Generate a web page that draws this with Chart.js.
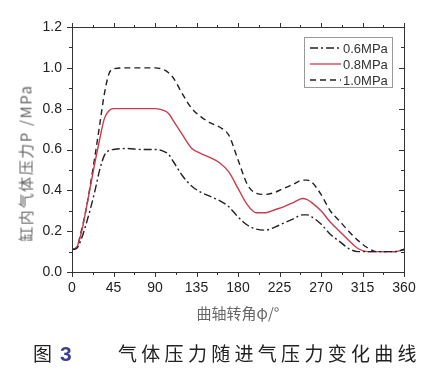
<!DOCTYPE html>
<html lang="zh">
<head>
    <meta charset="UTF-8">
    <title>气体压力随进气压力变化曲线</title>
    <script src="https://cdn.jsdelivr.net/npm/chart.js"></script>
    <style>
        body { margin: 0; background: #fff; }
        .page { position: relative; width: 426px; height: 372px; overflow: hidden; font-family: "Liberation Sans", Arial, sans-serif; }
        .chart-box { position: absolute; left: 0; top: 0; width: 426px; height: 372px; }
        /* rotated y title, a bit below the plot centre like the original */
        .ytitle {
            position: absolute; left: 25px; top: 163px;
            transform: translate(-50%, -50%) rotate(-90deg);
            white-space: nowrap; font-family: "Noto Sans CJK SC", sans-serif;
            font-size: 15px; letter-spacing: 1.6px; color: #666;
        }
        .caption { position: absolute; top: 339px; left: 33px; font-family: "Noto Sans CJK SC", sans-serif; font-size: 19px; color: #222; white-space: nowrap; }
        .caption .num { color: #3b3f8f; font-family: "Liberation Sans", Arial, sans-serif; font-weight: bold; font-size: 21px; margin-left: 8px; }
        .caption .txt { position: absolute; left: 85px; top: 0; letter-spacing: 4.3px; }
    </style>
</head>
<body>
<div class="page">
    <div class="chart-box"><canvas id="pressureChart"></canvas></div>
    <div class="ytitle">缸内气体压力P /MPa</div>
    <div class="caption">图<span class="num">3</span><span class="txt">气体压力随进气压力变化曲线</span></div>
</div>

<script>
    // crank angle (deg) and cylinder pressure (MPa)
    const angles = [0, 5, 10, 15, 20, 25, 30, 35, 40, 45, 60, 75, 90, 100, 105, 110, 120, 130, 140, 150, 160, 170, 180, 190, 200, 210, 220, 230, 240, 250, 255, 260, 270, 280, 290, 300, 310, 320, 330, 340, 350, 360];
    const p06 = [0.11, 0.115, 0.16, 0.23, 0.31, 0.40, 0.50, 0.57, 0.595, 0.60, 0.605, 0.60, 0.60, 0.59, 0.575, 0.54, 0.47, 0.42, 0.39, 0.37, 0.35, 0.32, 0.27, 0.23, 0.21, 0.205, 0.22, 0.24, 0.26, 0.28, 0.28, 0.27, 0.235, 0.185, 0.15, 0.115, 0.10, 0.10, 0.10, 0.10, 0.10, 0.11];
    const p08 = [0.11, 0.12, 0.19, 0.30, 0.42, 0.54, 0.65, 0.75, 0.79, 0.80, 0.80, 0.80, 0.80, 0.79, 0.775, 0.74, 0.67, 0.605, 0.58, 0.56, 0.535, 0.49, 0.41, 0.33, 0.29, 0.29, 0.305, 0.32, 0.34, 0.36, 0.355, 0.34, 0.30, 0.245, 0.20, 0.155, 0.115, 0.10, 0.10, 0.10, 0.10, 0.11];
    const p10 = [0.11, 0.12, 0.20, 0.30, 0.43, 0.57, 0.72, 0.87, 0.97, 0.995, 1.0, 1.0, 1.0, 0.99, 0.975, 0.95, 0.87, 0.80, 0.76, 0.73, 0.71, 0.67, 0.55, 0.43, 0.385, 0.38, 0.39, 0.41, 0.43, 0.45, 0.45, 0.44, 0.38, 0.30, 0.25, 0.20, 0.155, 0.12, 0.10, 0.10, 0.10, 0.11];
    const seriesLabels = ['0.6MPa', '0.8MPa', '1.0MPa'];

    const toPoints = vals => angles.map((a, i) => ({ x: a, y: vals[i] }));

    // box frame with major/minor ticks on all four sides
    const framePlugin = {
        id: 'frame',
        afterDatasetsDraw(chart) {
            const { ctx, chartArea: a, scales: { x, y } } = chart;
            ctx.save();
            ctx.strokeStyle = '#333';
            ctx.lineWidth = 1;
            ctx.strokeRect(Math.round(a.left) + 0.5, Math.round(a.top) + 0.5, Math.round(a.width), Math.round(a.height));
            ctx.beginPath();
            const xt = x.ticks.map(t => t.value);
            xt.forEach((v, i) => {
                const px = Math.round(x.getPixelForValue(v)) + 0.5;
                ctx.moveTo(px, a.bottom); ctx.lineTo(px, a.bottom + 5);
                ctx.moveTo(px, a.top); ctx.lineTo(px, a.top - 4);
                if (i < xt.length - 1) {
                    const m = Math.round(x.getPixelForValue((v + xt[i + 1]) / 2)) + 0.5;
                    ctx.moveTo(m, a.bottom); ctx.lineTo(m, a.bottom + 3);
                    ctx.moveTo(m, a.top); ctx.lineTo(m, a.top - 2);
                }
            });
            const yt = y.ticks.map(t => t.value);
            yt.forEach((v, i) => {
                const py = Math.round(y.getPixelForValue(v)) + 0.5;
                ctx.moveTo(a.left, py); ctx.lineTo(a.left - 5, py);
                ctx.moveTo(a.right, py); ctx.lineTo(a.right - 5, py);
                if (i < yt.length - 1) {
                    const m = Math.round(y.getPixelForValue((v + yt[i + 1]) / 2)) + 0.5;
                    ctx.moveTo(a.left, m); ctx.lineTo(a.left - 3, m);
                    ctx.moveTo(a.right, m); ctx.lineTo(a.right - 3, m);
                }
            });
            ctx.stroke();
            ctx.restore();
        }
    };

    // boxed legend in the upper right corner of the plot
    const boxLegend = {
        id: 'boxLegend',
        afterDraw(chart) {
            const { ctx, chartArea: a } = chart;
            const left = a.right - 100, top = a.top + 10, w = 88, h = 50;
            ctx.save();
            ctx.fillStyle = '#fff';
            ctx.fillRect(left, top, w, h);
            ctx.strokeStyle = '#999';
            ctx.lineWidth = 1;
            ctx.strokeRect(left + 0.5, top + 0.5, w, h);
            chart.data.datasets.forEach((ds, i) => {
                const ry = top + 11 + i * 16;
                ctx.beginPath();
                ctx.setLineDash(ds.borderDash || []);
                ctx.strokeStyle = ds.borderColor;
                ctx.lineWidth = 1.3;
                ctx.moveTo(left + 6, ry); ctx.lineTo(left + 37, ry);
                ctx.stroke();
                ctx.setLineDash([]);
                ctx.fillStyle = '#333';
                ctx.font = '13px "Liberation Sans", Arial, sans-serif';
                ctx.textBaseline = 'middle';
                ctx.fillText(ds.label, left + 39, ry + 1);
            });
            ctx.restore();
        }
    };

    const tickFont = { family: '"Liberation Sans", Arial, sans-serif', size: 14 };

    new Chart(document.getElementById('pressureChart'), {
        type: 'line',
        data: {
            datasets: [
                { label: seriesLabels[0], data: toPoints(p06), borderColor: '#222', borderDash: [8, 3, 2, 3], borderWidth: 1.4 },
                { label: seriesLabels[1], data: toPoints(p08), borderColor: '#c83c4e', borderWidth: 1.4 },
                { label: seriesLabels[2], data: toPoints(p10), borderColor: '#222', borderDash: [6, 4], borderWidth: 1.4 }
            ]
        },
        options: {
            responsive: true,
            maintainAspectRatio: false,
            animation: false,
            layout: { padding: { left: 0, right: 22, top: 27, bottom: 46 } },
            elements: { point: { radius: 0 }, line: { tension: 0.4, cubicInterpolationMode: 'monotone' } },
            plugins: { legend: { display: false }, tooltip: { enabled: false } },
            scales: {
                x: {
                    type: 'linear', min: 0, max: 360,
                    grid: { display: false, drawTicks: false },
                    border: { display: false },
                    ticks: { stepSize: 45, padding: 8, color: '#222', font: tickFont, maxRotation: 0 },
                    title: { display: true, text: '曲轴转角φ/°', color: '#666', padding: { top: 4, bottom: 4 },
                             font: { family: '"Noto Sans CJK SC", sans-serif', size: 15 } },
                    afterFit(scale) { scale.height = 54; }
                },
                y: {
                    min: 0, max: 1.2,
                    grid: { display: false, drawTicks: false },
                    border: { display: false },
                    ticks: { stepSize: 0.2, padding: 10, color: '#222', font: tickFont, callback: v => v.toFixed(1) },
                    afterFit(scale) { scale.width = 72; }
                }
            }
        },
        plugins: [framePlugin, boxLegend]
    });
</script>
</body>
</html>
